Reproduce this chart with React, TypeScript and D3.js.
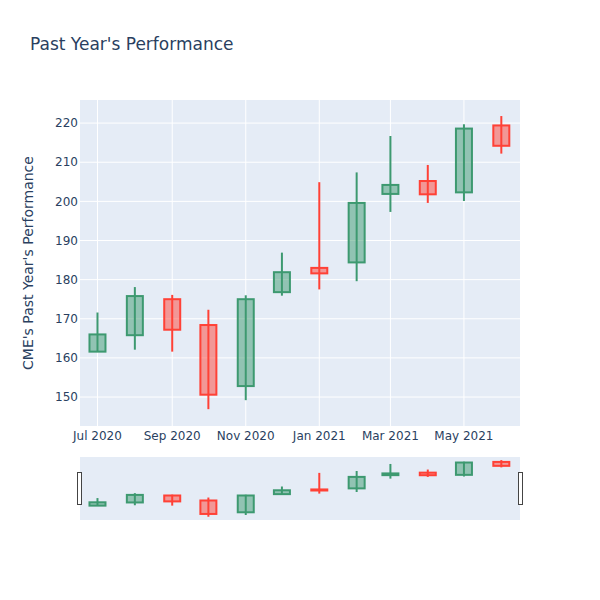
import * as d3 from "d3";

// monthly candles, one per month start
const months = [
  "2020-07-01", "2020-08-01", "2020-09-01", "2020-10-01", "2020-11-01", "2020-12-01",
  "2021-01-01", "2021-02-01", "2021-03-01", "2021-04-01", "2021-05-01", "2021-06-01",
];
const open = [161.6, 165.8, 175.0, 168.4, 152.8, 176.8, 183.0, 184.4, 201.9, 205.2, 202.3, 219.4];
const close = [166.0, 175.8, 167.2, 150.6, 175.0, 181.9, 181.6, 199.6, 204.2, 201.8, 218.6, 214.2];
const high = [171.6, 178.1, 176.1, 172.3, 176.0, 186.9, 204.9, 207.4, 216.7, 209.3, 219.7, 221.8];
const low = [161.5, 162.1, 161.6, 146.9, 149.2, 175.9, 177.5, 179.6, 197.3, 199.6, 200.1, 212.2];
const yTicks = [150, 160, 170, 180, 190, 200, 210, 220];

const INC = "#3D9970";
const DEC = "#FF4136";
const FONT = '"DejaVu Sans", verdana, arial, sans-serif';
const TXT = "#2a3f5f";

const parse = d3.timeParse("%Y-%m-%d");
const candles = months.map((m, i) => ({
  date: parse(m) as Date,
  open: open[i],
  close: close[i],
  high: high[i],
  low: low[i],
}));

const W = 600;
const H = 600;
const L = 80;
const R = 520;
const T = 100;
const B = 426;
const sT = 457;
const sB = 520;

const x = d3
  .scaleTime()
  .domain([new Date(2020, 5, 16, 12), new Date(2021, 5, 16, 12)])
  .range([L, R]);
const y = d3.scaleLinear().domain([142.6, 225.9]).range([B, T]);
const ys = d3.scaleLinear().domain([142.6, 225.9]).range([sB, sT]);
const xTicks = x.ticks(d3.timeMonth.every(2)!);
const fmt = d3.timeFormat("%b %Y");

const BODY = 16;

function Candles({ ys }: { ys: d3.ScaleLinear<number, number> }) {
  return (
    <g>
      {candles.map((c, i) => {
        const col = c.close >= c.open ? INC : DEC;
        const cx = x(c.date);
        const top = ys(Math.max(c.open, c.close));
        const bot = ys(Math.min(c.open, c.close));
        return (
          <g key={i}>
            <line x1={cx} x2={cx} y1={ys(c.high)} y2={ys(c.low)} stroke={col} strokeWidth={2} />
            <rect
              x={cx - BODY / 2}
              y={top}
              width={BODY}
              height={Math.max(bot - top, 0.5)}
              fill={col}
              fillOpacity={0.5}
              stroke={col}
              strokeWidth={2}
            />
          </g>
        );
      })}
    </g>
  );
}

export default function App() {
  return (
    <svg
      width={W}
      height={H}
      style={{ display: "block", position: "absolute", left: 0, top: 0, fontFamily: FONT }}
    >
      <rect width={W} height={H} fill="#fff" />
      <text x={30} y={50} fontSize={17} fill={TXT}>
        Past Year's Performance
      </text>

      {/* main plot */}
      <rect x={L} y={T} width={R - L} height={B - T} fill="#E5ECF6" />
      {xTicks.map((d, i) => (
        <line key={i} x1={x(d)} x2={x(d)} y1={T} y2={B} stroke="#fff" strokeWidth={1} />
      ))}
      {yTicks.map((v) => (
        <line key={v} x1={L} x2={R} y1={y(v)} y2={y(v)} stroke="#fff" strokeWidth={1} />
      ))}
      <Candles ys={y} />

      {yTicks.map((v) => (
        <text key={v} x={78} y={y(v)} dy="0.35em" textAnchor="end" fontSize={12} fill={TXT}>
          {v}
        </text>
      ))}
      {xTicks.map((d, i) => (
        <text key={i} x={x(d)} y={440} textAnchor="middle" fontSize={12} fill={TXT}>
          {fmt(d)}
        </text>
      ))}
      <text
        transform={`translate(33,${(T + B) / 2}) rotate(-90)`}
        textAnchor="middle"
        fontSize={14}
        fill={TXT}
      >
        CME's Past Year's Performance
      </text>

      {/* range slider */}
      <rect x={L} y={sT} width={R - L} height={sB - sT} fill="#E5ECF6" />
      <Candles ys={ys} />
      {[L - 2.5, R - 1.5].map((hx, i) => (
        <rect
          key={i}
          x={hx}
          y={sT + (sB - sT) / 4}
          width={4}
          height={(sB - sT) / 2}
          fill="#fff"
          stroke="#444"
          strokeWidth={1}
          shapeRendering="crispEdges"
        />
      ))}
    </svg>
  );
}
